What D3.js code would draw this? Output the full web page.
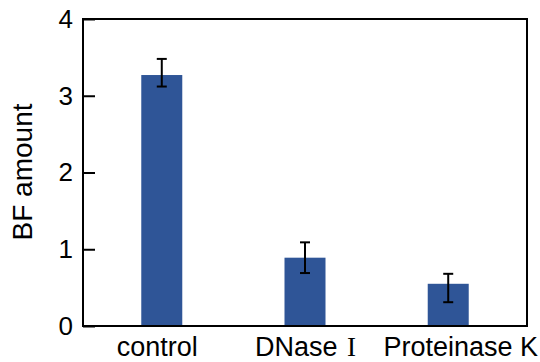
<!DOCTYPE html>
<html>
<head>
<meta charset="utf-8">
<script src="https://cdn.jsdelivr.net/npm/d3@7"></script>
<style>
  body { margin: 0; background: #fff; }
  svg { display: block; font-family: "Liberation Sans", Arial, sans-serif; }
</style>
</head>
<body>
<svg id="chart" width="540" height="362"></svg>
<script>
// data
const categories = ['control', 'DNase', 'Proteinase K'];
const means = [3.27, 0.89, 0.55];
const errUpper = [0.21, 0.2, 0.13];
const errLower = [0.15, 0.2, 0.24];
const yTicks = [0, 1, 2, 3, 4];

const margin = { top: 19, right: 13, bottom: 36, left: 83 };
const width = 540, height = 362;
const innerW = width - margin.left - margin.right;
const innerH = height - margin.top - margin.bottom;

// the category labels in the original sit a little off their bars
const labelShift = [-5, 0, 12];

const svg = d3.select('#chart');
const g = svg.append('g')
  .attr('transform', `translate(${margin.left},${margin.top})`);

const x = d3.scalePoint()
  .domain(categories)
  .range([0, innerW])
  .padding(0.55);

const y = d3.scaleLinear()
  .domain([0, 4])
  .range([innerH, 0]);

const barW = 41;

// bars
g.selectAll('rect.bar')
  .data(categories)
  .enter()
  .append('rect')
  .attr('class', 'bar')
  .attr('x', (d) => x(d) - barW / 2)
  .attr('y', (d, i) => y(means[i]))
  .attr('width', barW)
  .attr('height', (d, i) => y(0) - y(means[i]))
  .attr('fill', '#2f5597');

// error bars
const cap = 5;
const eb = g.selectAll('g.err')
  .data(categories)
  .enter()
  .append('g')
  .attr('class', 'err')
  .attr('stroke', '#000')
  .attr('stroke-width', 2);

eb.append('line')
  .attr('x1', (d) => x(d)).attr('x2', (d) => x(d))
  .attr('y1', (d, i) => y(means[i] + errUpper[i]))
  .attr('y2', (d, i) => y(means[i] - errLower[i]));
eb.append('line')
  .attr('x1', (d) => x(d) - cap).attr('x2', (d) => x(d) + cap)
  .attr('y1', (d, i) => y(means[i] + errUpper[i]))
  .attr('y2', (d, i) => y(means[i] + errUpper[i]));
eb.append('line')
  .attr('x1', (d) => x(d) - cap).attr('x2', (d) => x(d) + cap)
  .attr('y1', (d, i) => y(means[i] - errLower[i]))
  .attr('y2', (d, i) => y(means[i] - errLower[i]));

// y axis, ticks pointing inward
const yAxis = g.append('g')
  .call(d3.axisLeft(y).tickValues(yTicks).tickSize(-12).tickPadding(10).tickFormat(d3.format('d')));
yAxis.select('.domain').remove();
yAxis.selectAll('line').attr('stroke', '#000').attr('stroke-width', 2);
yAxis.selectAll('text')
  .attr('font-size', 26)
  .attr('fill', '#000')
  .attr('font-family', '"Liberation Sans", Arial, sans-serif');

// x axis labels, kept just inside the bottom edge
const xAxis = g.append('g')
  .attr('transform', `translate(0,${innerH})`)
  .call(d3.axisBottom(x).tickSize(0).tickPadding(11));
xAxis.select('.domain').remove();
xAxis.selectAll('text')
  .attr('font-size', 27)
  .attr('fill', '#000')
  .attr('font-family', '"Liberation Sans", Arial, sans-serif')
  .attr('dx', (d, i) => labelShift[i]);

// roman numeral after DNase, drawn in a serif face like the original
xAxis.selectAll('text')
  .filter((d) => d === 'DNase')
  .text('DNase ')
  .append('tspan')
  .attr('dx', 2)
  .attr('font-family', '"Liberation Serif", "DejaVu Serif", serif')
  .text('I');

// frame
g.append('rect')
  .attr('x', 0).attr('y', 0)
  .attr('width', innerW).attr('height', innerH)
  .attr('fill', 'none')
  .attr('stroke', '#000')
  .attr('stroke-width', 2);

// y title
svg.append('text')
  .attr('transform', `translate(32,172) rotate(-90)`)
  .attr('text-anchor', 'middle')
  .attr('font-size', 28)
  .attr('fill', '#000')
  .text('BF amount');
</script>
</body>
</html>
